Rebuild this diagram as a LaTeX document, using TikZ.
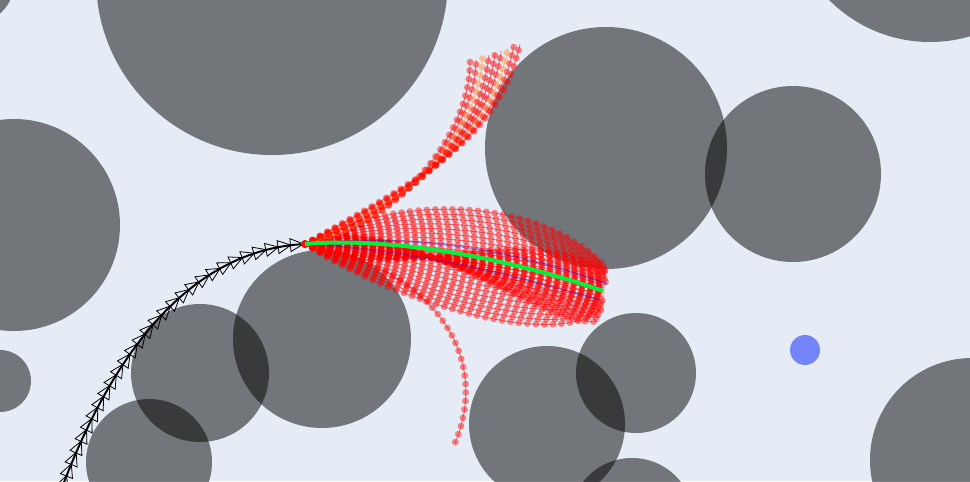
\documentclass[tikz,border=0pt]{standalone}
\usepackage{tikz}
\usetikzlibrary{decorations.markings}
\definecolor{plotbg}{HTML}{E5ECF6}
\definecolor{goalblue}{HTML}{7484F9}
\definecolor{bestgreen}{HTML}{00F03C}
\definecolor{rollorange}{HTML}{FF9A40}
\tikzset{
  obstacle/.style={fill=black, fill opacity=0.5},
  rollout/.style={draw=#1, draw opacity=0.5, line width=0.5pt,
    postaction={decorate, decoration={markings,
      mark=between positions 0 and 1 step 0.17cm with {\fill[#1, opacity=0.45] (0,0) circle (0.068cm);}}}},
  rollout/.default=red,
  history/.style={black, line width=1.1pt,
    postaction={decorate, decoration={markings,
      mark=between positions 0.01 and 1 step 0.25cm with {\draw[black, line width=0.45pt] (0.13cm,0) -- (-0.13cm,0.13cm) -- (-0.13cm,-0.13cm) -- cycle;}}}}
}
\begin{document}
\begin{tikzpicture}[x=0.02cm,y=-0.02cm]
\useasboundingbox (0,0) rectangle (970,481);
\clip (0,0) rectangle (970,481);
\fill[plotbg] (0,0) rectangle (970,481);
%% Obstacles
\foreach \cx/\cy/\r in {272/-21/176, 930/-100/142, -30/-20/45, 14/225/106, 0/381/31,
  606/148/121, 793/174/88, 200/373/69, 149/462/63, 322/339/89,
  547/424/78, 636/373/60, 632/520/62, 972/460/102}{
  \fill[obstacle] (\cx,\cy) circle (\r);
}
%% Goal
\fill[goalblue] (805,350) circle (15);
%% Driven path so far
\coordinate (start) at (305,244);
\coordinate (tail) at (63,485);
\draw[history] (tail) .. controls (106,372) and (180,250) .. (start);
%% Sampled rollouts, main bundle
\foreach \t in {0,0.05,...,1.01}{
  \draw[rollout] (start) .. controls (400,{192+113*\t}) and ({540+20*\t},{197+153*\t}) .. ({607-4*\t},{268+40*\t});
}
%% Crossing rollouts inside the bundle
\foreach \t in {0,0.07,...,1.01}{
  \draw[rollout] (start) .. controls (390,{290-90*\t}) and ({520+30*\t},{215+120*\t}) .. ({605-6*\t},{272+50*\t});
}
%% Rollouts turning up
\foreach \s/\c in {0/red,0.125/red,0.25/rollorange,0.375/red,0.5/red,0.625/red,0.75/rollorange,0.875/red,1/red}{
  \draw[rollout=\c] (start) .. controls ({370+60*\s},{240-65*\s}) and ({470+30*\s},{150-15*\s}) .. ({470+50*\s},{62-18*\s});
}
%% Rollout turning down
\draw[rollout] (start) .. controls (440,270) and (490,360) .. (455,443);
%% Faint blue rollouts
\draw[blue, opacity=0.3, line width=1pt] (start) .. controls (420,232) and (520,252) .. (607,284);
\draw[blue, opacity=0.25, line width=1pt] (start) .. controls (420,250) and (530,280) .. (600,300);
%% Best rollout
\draw[bestgreen, line width=2.3pt] (start) .. controls (400,236) and (520,262) .. (603,291);
\end{tikzpicture}
\end{document}
